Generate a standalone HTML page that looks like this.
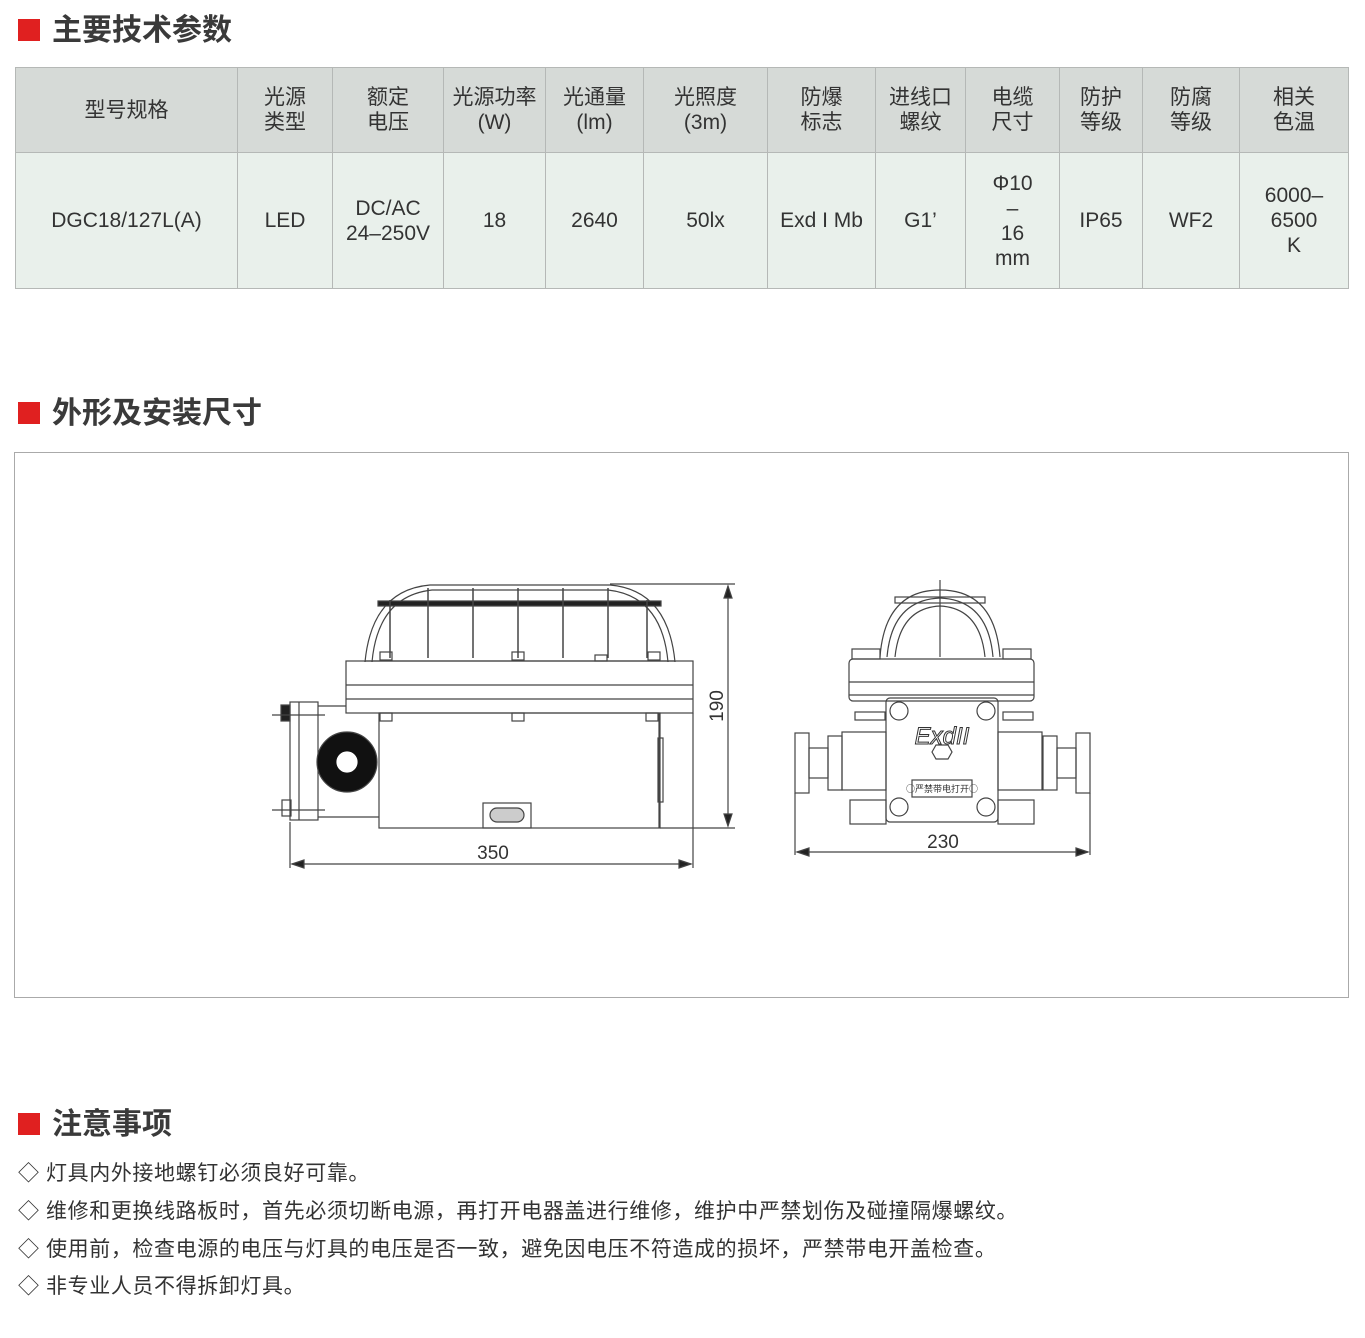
<!DOCTYPE html>
<html><head><meta charset="utf-8">
<style>
body{margin:0;width:1365px;height:1338px;background:#fff;position:relative;font-family:"Liberation Sans","Noto Sans CJK SC",sans-serif;color:#333;overflow:hidden}
.h{position:absolute;left:18px;font-size:30px;font-weight:bold;color:#3a3a3a;line-height:32px}
.h i{display:inline-block;width:22px;height:22px;background:#e02020;margin-right:12px;vertical-align:-1px}
table{position:absolute;left:15px;top:67px;border-collapse:collapse;width:1334px;font-size:21px;text-align:center}
td{border:1px solid #b5b8b6;line-height:25px;padding:0;color:#333}
tr.a td{background:#d6dad7;height:84px}
tr.b td{background:#e9f0eb;height:135px}
.box{position:absolute;left:14px;top:452px;width:1333px;height:544px;border:1px solid #aaa}
.n{position:absolute;left:18px;font-size:21px;letter-spacing:0.6px;color:#333}
</style></head><body>
<div class="h" style="top:15px"><i></i>主要技术参数</div>
<table>
<colgroup><col style="width:222px"><col style="width:95px"><col style="width:111px"><col style="width:102px"><col style="width:98px"><col style="width:124px"><col style="width:108px"><col style="width:90px"><col style="width:94px"><col style="width:83px"><col style="width:97px"><col></colgroup>
<tr class="a"><td>型号规格</td><td>光源<br>类型</td><td>额定<br>电压</td><td>光源功率<br>(W)</td><td>光通量<br>(lm)</td><td>光照度<br>(3m)</td><td>防爆<br>标志</td><td>进线口<br>螺纹</td><td>电缆<br>尺寸</td><td>防护<br>等级</td><td>防腐<br>等级</td><td>相关<br>色温</td></tr>
<tr class="b"><td>DGC18/127L(A)</td><td>LED</td><td>DC/AC<br>24–250V</td><td>18</td><td>2640</td><td>50lx</td><td>Exd I Mb</td><td>G1’</td><td>Φ10<br>–<br>16<br>mm</td><td>IP65</td><td>WF2</td><td>6000–<br>6500<br>K</td></tr>
</table>
<div class="h" style="top:398px"><i></i>外形及安装尺寸</div>
<div class="box"></div>
<svg style="position:absolute;left:0;top:0" width="1365" height="1338" fill="none" stroke="#444" stroke-width="1.2">
<path d="M365 662 Q372 590 430 585 L610 585 Q668 590 675 662"/>
<path d="M372 662 Q378 596 432 590 L608 590 Q662 596 668 662"/>
<rect x="378" y="601" width="283" height="5" fill="#222"/>
<g stroke-width="1.5"><line x1="390" y1="600" x2="390" y2="658"/><line x1="428" y1="588" x2="428" y2="658"/><line x1="473" y1="588" x2="473" y2="658"/><line x1="518" y1="588" x2="518" y2="658"/><line x1="563" y1="588" x2="563" y2="658"/><line x1="608" y1="588" x2="608" y2="658"/><line x1="647" y1="600" x2="647" y2="658"/></g>
<rect x="380" y="652" width="12" height="8"/><rect x="512" y="652" width="12" height="8"/><rect x="595" y="655" width="12" height="6"/><rect x="648" y="652" width="12" height="8"/>
<line x1="365" y1="661" x2="675" y2="661"/>
<rect x="346" y="661" width="347" height="52"/><line x1="346" y1="685" x2="693" y2="685"/><line x1="346" y1="699" x2="693" y2="699"/>
<rect x="379" y="713" width="281" height="115"/><line x1="659" y1="713" x2="659" y2="828"/>
<rect x="658" y="738" width="5" height="64"/>
<rect x="380" y="713" width="12" height="8"/><rect x="512" y="713" width="12" height="8"/><rect x="646" y="713" width="12" height="8"/>
<rect x="483" y="803" width="48" height="25"/><rect x="490" y="808" width="34" height="14" rx="7" fill="#ccc"/>
<rect x="290" y="702" width="28" height="118"/><line x1="299" y1="702" x2="299" y2="820"/>
<path d="M318 706 L346 706 M318 817 L379 817"/>
<rect x="281" y="705" width="9" height="16" fill="#222"/><rect x="282" y="800" width="9" height="16"/>
<circle cx="347" cy="762" r="30" fill="#111"/><circle cx="347" cy="762" r="10" fill="#fff" stroke="#fff"/>
<line x1="272" y1="715" x2="325" y2="715"/><line x1="272" y1="810" x2="325" y2="810"/>
<line x1="610" y1="584" x2="735" y2="584"/><line x1="660" y1="828" x2="735" y2="828"/>
<line x1="728" y1="586" x2="728" y2="826"/>
<path d="M728 586 l-4 12 h8z M728 826 l-4 -12 h8z" fill="#222"/>
<line x1="290" y1="822" x2="290" y2="868"/><line x1="693" y1="713" x2="693" y2="868"/>
<line x1="292" y1="864" x2="691" y2="864"/>
<path d="M292 864 l12 -4 v8z M691 864 l-12 -4 v8z" fill="#222"/>
<path d="M880 657 Q885 590 940 590 Q995 590 1000 657"/><path d="M887 657 Q892 600 940 598 Q988 600 993 657"/><path d="M895 657 Q900 608 940 606 Q980 608 985 657"/>
<rect x="895" y="597" width="90" height="6"/><line x1="940" y1="580" x2="940" y2="657"/>
<rect x="852" y="649" width="28" height="10"/><rect x="1003" y="649" width="28" height="10"/>
<rect x="849" y="659" width="185" height="42" rx="4"/><line x1="849" y1="682" x2="1034" y2="682"/><line x1="849" y1="695" x2="1034" y2="695"/>
<rect x="855" y="712" width="30" height="8"/><rect x="1003" y="712" width="30" height="8"/>
<rect x="886" y="698" width="112" height="124" rx="4"/>
<circle cx="899" cy="711" r="9"/><circle cx="986" cy="711" r="9"/><circle cx="899" cy="807" r="9"/><circle cx="986" cy="807" r="9"/>
<rect x="912" y="780" width="60" height="17"/>
<path d="M932 752 l4 -7 h12 l4 7 l-4 7 h-12z"/>
<rect x="795" y="733" width="14" height="60"/><rect x="1076" y="733" width="14" height="60"/>
<rect x="828" y="736" width="14" height="54"/><rect x="1043" y="736" width="14" height="54"/>
<rect x="842" y="732" width="44" height="58"/><rect x="998" y="732" width="44" height="58"/>
<rect x="809" y="748" width="19" height="30"/><rect x="1057" y="748" width="19" height="30"/>
<rect x="850" y="800" width="36" height="24"/><rect x="998" y="800" width="36" height="24"/>
<line x1="795" y1="793" x2="795" y2="855"/><line x1="1090" y1="793" x2="1090" y2="855"/>
<line x1="797" y1="852" x2="1088" y2="852"/>
<path d="M797 852 l12 -4 v8z M1088 852 l-12 -4 v8z" fill="#222"/>
<g fill="#333" stroke="none" font-family="Liberation Sans,sans-serif">
<text x="493" y="859" font-size="19" text-anchor="middle">350</text>
<text x="943" y="848" font-size="19" text-anchor="middle">230</text>
<text x="723" y="706" font-size="19" text-anchor="middle" transform="rotate(-90 723 706)">190</text>
<text x="942" y="744" font-size="24" font-style="italic" text-anchor="middle" fill="#fff" stroke="#333" stroke-width="1">ExdII</text>
<text x="942" y="792" font-size="9" text-anchor="middle" font-family="Noto Sans CJK SC,sans-serif">○严禁带电打开○</text>
</g>
</svg>
<div class="h" style="top:1109px"><i></i>注意事项</div>
<div class="n" style="top:1157px">◇ 灯具内外接地螺钉必须良好可靠。</div>
<div class="n" style="top:1195px">◇ 维修和更换线路板时，首先必须切断电源，再打开电器盖进行维修，维护中严禁划伤及碰撞隔爆螺纹。</div>
<div class="n" style="top:1233px">◇ 使用前，检查电源的电压与灯具的电压是否一致，避免因电压不符造成的损坏，严禁带电开盖检查。</div>
<div class="n" style="top:1270px">◇ 非专业人员不得拆卸灯具。</div>
</body></html>
